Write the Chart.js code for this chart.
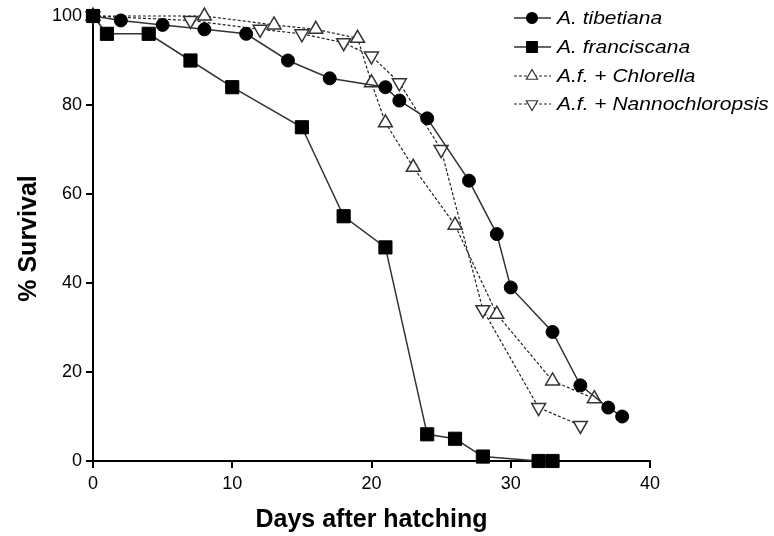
<!DOCTYPE html>
<html>
<head>
<meta charset="utf-8">
<script src="https://cdn.jsdelivr.net/npm/chart.js@4"></script>
<style>
  html, body { margin: 0; padding: 0; background: #fff; }
  #wrap { width: 774px; height: 536px; }
</style>
</head>
<body>
<div id="wrap"><canvas id="survival"></canvas></div>
<script>
// data
const seriesNames = ['A. tibetiana', 'A. franciscana', 'A.f. + Chlorella', 'A.f. + Nannochloropsis']

const tibetianaDays = [0, 2, 5, 8, 11, 14, 17, 21, 22, 24, 27, 29, 30, 33, 35, 37, 38]
const tibetianaSurv = [100, 99, 98, 97, 96, 90, 86, 84, 81, 77, 63, 51, 39, 29, 17, 12, 10]

const franciscanaDays = [0, 1, 4, 7, 10, 15, 18, 21, 24, 26, 28, 32, 33]
const franciscanaSurv = [100, 96, 96, 90, 84, 75, 55, 48, 6, 5, 1, 0, 0]

const chlorellaDays = [0, 8, 13, 16, 19, 20, 21, 23, 26, 29, 33, 36]
const chlorellaSurv = [100, 100, 98, 97, 95, 85, 76, 66, 53, 33, 18, 14]

const nannoDays = [0, 7, 12, 15, 18, 20, 22, 25, 28, 32, 35]
const nannoSurv = [100, 99, 97, 96, 94, 91, 85, 70, 34, 12, 8]

const xTicks = [0, 10, 20, 30, 40]
const yTicks = [0, 20, 40, 60, 80, 100]

const FONT = '"Liberation Sans", Arial, sans-serif'

function toPoints(days, surv) {
    return days.map((d, i) => ({ x: d, y: surv[i] }))
}

// legend sits right of the plot, like the original figure
const legendPlugin = {
    id: 'sideLegend',
    afterDraw(chart) {
        const ctx = chart.ctx
        const rows = [18, 47, 76, 104]
        ctx.save()
        chart.data.datasets.forEach((ds, i) => {
            const y = rows[i]
            ctx.beginPath()
            ctx.strokeStyle = ds.borderColor
            ctx.lineWidth = ds.borderWidth
            ctx.setLineDash(ds.borderDash || [])
            ctx.moveTo(514, y)
            ctx.lineTo(551, y)
            ctx.stroke()
            ctx.setLineDash([])
            ctx.fillStyle = ds.pointBackgroundColor
            ctx.strokeStyle = ds.pointBorderColor
            ctx.lineWidth = 1.2
            Chart.helpers.drawPoint(ctx, {
                pointStyle: ds.pointStyle,
                radius: ds.pointStyle === 'triangle' ? 6.5 : ds.pointStyle === 'rect' ? 7.5 : 5.5,
                rotation: ds.pointRotation || 0,
                borderWidth: 1.2
            }, 532, y)

            ctx.save()
            ctx.translate(557, y + 1)
            ctx.scale(1.2, 1)
            ctx.fillStyle = '#000'
            ctx.font = 'italic 17.5px ' + FONT
            ctx.textBaseline = 'middle'
            ctx.fillText(seriesNames[i], 0, 0)
            ctx.restore()
        })
        ctx.restore()
    }
}

const ctx = document.getElementById('survival')
new Chart(ctx, {
    type: 'scatter',
    data: {
        datasets: [
            {
                label: seriesNames[0],
                data: toPoints(tibetianaDays, tibetianaSurv),
                showLine: true,
                borderColor: '#333',
                borderWidth: 1.5,
                pointStyle: 'circle',
                pointRadius: 6.5,
                pointBackgroundColor: '#000',
                pointBorderColor: '#000',
                pointBorderWidth: 1
            },
            {
                label: seriesNames[1],
                data: toPoints(franciscanaDays, franciscanaSurv),
                showLine: true,
                borderColor: '#333',
                borderWidth: 1.5,
                pointStyle: 'rect',
                pointRadius: 9.3,
                pointBackgroundColor: '#000',
                pointBorderColor: '#000',
                pointBorderWidth: 1
            },
            {
                label: seriesNames[2],
                data: toPoints(chlorellaDays, chlorellaSurv),
                showLine: true,
                borderColor: '#222',
                borderWidth: 1.2,
                borderDash: [3, 2],
                pointStyle: 'triangle',
                pointRadius: 8,
                pointBackgroundColor: '#fff',
                pointBorderColor: '#333',
                pointBorderWidth: 1.5
            },
            {
                label: seriesNames[3],
                data: toPoints(nannoDays, nannoSurv),
                showLine: true,
                borderColor: '#222',
                borderWidth: 1.2,
                borderDash: [3, 2],
                pointStyle: 'triangle',
                pointRotation: 180,
                pointRadius: 8,
                pointBackgroundColor: '#fff',
                pointBorderColor: '#333',
                pointBorderWidth: 1.5
            }
        ]
    },
    options: {
        responsive: true,
        maintainAspectRatio: false,
        animation: false,
        clip: false,
        layout: { padding: { top: 16, right: 124, left: 0, bottom: 0 } },
        plugins: {
            legend: { display: false },
            tooltip: { enabled: false }
        },
        scales: {
            x: {
                type: 'linear',
                min: 0,
                max: 40,
                afterFit(scale) { scale.height = 75 },
                afterBuildTicks(scale) { scale.ticks = xTicks.map(v => ({ value: v })) },
                border: { color: '#000', width: 2 },
                grid: { drawOnChartArea: false, drawTicks: true, tickLength: 7, color: '#000', lineWidth: 2 },
                ticks: {
                    color: '#000',
                    padding: 5,
                    font: { family: FONT, size: 18 }
                },
                title: {
                    display: true,
                    text: 'Days after hatching',
                    color: '#000',
                    padding: { top: 12, bottom: 1 },
                    font: { family: FONT, size: 25, weight: 'bold' }
                }
            },
            y: {
                min: 0,
                max: 100,
                afterFit(scale) { scale.width = 93 },
                afterBuildTicks(scale) { scale.ticks = yTicks.map(v => ({ value: v })) },
                border: { color: '#000', width: 2 },
                grid: { drawOnChartArea: false, drawTicks: true, tickLength: 7, color: '#000', lineWidth: 2 },
                ticks: {
                    color: '#000',
                    padding: 4,
                    font: { family: FONT, size: 18 }
                },
                title: {
                    display: true,
                    text: '% Survival',
                    color: '#000',
                    padding: { bottom: 0, top: 14 },
                    font: { family: FONT, size: 25, weight: 'bold' }
                }
            }
        }
    },
    plugins: [legendPlugin]
})
</script>
</body>
</html>
